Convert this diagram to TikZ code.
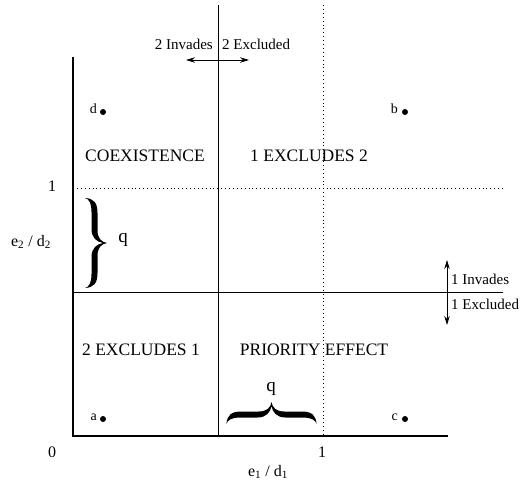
\documentclass[tikz,border=0pt]{standalone}
\usepackage{fontspec}
\setmainfont{Liberation Serif}
\usetikzlibrary{arrows.meta}
\begin{document}
\begin{tikzpicture}[x=1pt,y=-1pt,
  axisline/.style={line width=1.1pt},
  solidline/.style={line width=0.9pt},
  dotline/.style={line width=0.9pt, dash pattern=on 0.9pt off 3pt},
  quad/.style={font=\fontsize{17.5}{20}\selectfont, inner sep=0pt},
  small/.style={font=\fontsize{15}{18}\selectfont, inner sep=1pt},
  axlab/.style={font=\fontsize{16}{18}\selectfont, inner sep=0pt},
  qlab/.style={font=\fontsize{19}{22}\selectfont, inner sep=0pt},
  dotpt/.style={circle, fill, inner sep=0pt, minimum size=6pt},
  ptlabel/.style={font=\fontsize{14}{16}\selectfont, inner sep=0pt, anchor=east},
  dbl/.style={{Stealth[length=9pt,width=5.5pt]}-{Stealth[length=9pt,width=5.5pt]}, line width=0.8pt},
  bracepic/.pic={
    \fill (0,-45) .. controls (9,-44.5) and (12.5,-40) .. (12.5,-30)
      -- (12.5,-13) .. controls (12.5,-5) and (16,-1) .. (22,0)
      .. controls (16,1) and (12.5,5) .. (12.5,13)
      -- (12.5,30) .. controls (12.5,40) and (9,44.5) .. (0,45)
      .. controls (4,44) and (6.5,40) .. (6.5,31)
      -- (6.5,14) .. controls (6.5,5) and (12,1) .. (18,0)
      .. controls (12,-1) and (6.5,-5) .. (6.5,-14)
      -- (6.5,-31) .. controls (6.5,-40) and (4,-44) .. (0,-45) -- cycle;
  }]
\useasboundingbox (0,0) rectangle (520,485);
% axes
\coordinate (O) at (73,436);
\coordinate (Ytop) at (73,57);
\coordinate (Xend) at (448,436);
\draw[axisline] (Ytop) -- (O) -- (Xend);
% solid vertical
\coordinate (V1t) at (218,5);
\coordinate (V1b) at (218,436);
\draw[solidline] (V1t) -- (V1b);
% dotted vertical
\coordinate (V2t) at (323,5);
\coordinate (V2b) at (323,436);
\draw[dotline] (V2t) -- (V2b);
% dotted horizontal
\coordinate (H1l) at (73,188);
\coordinate (H1r) at (503,188);
\draw[dotline] (H1l) -- (H1r);
% solid horizontal
\coordinate (H2l) at (73,292);
\coordinate (H2r) at (503,292);
\draw[solidline] (H2l) -- (H2r);
% arrows
\coordinate (AHl) at (186,60);
\coordinate (AHr) at (249,60);
\draw[dbl] (AHl) -- (AHr);
\coordinate (AVt) at (447,260);
\coordinate (AVb) at (447,325);
\draw[dbl] (AVt) -- (AVb);
\node[small, anchor=east] (inv2) at (214,44) {2 Invades};
\node[small, anchor=west] (exc2) at (221,44) {2 Excluded};
\node[small, anchor=west] (inv1) at (450,279) {1 Invades};
\node[small, anchor=west] (exc1) at (450,304) {1 Excluded};
% points
\node[dotpt] (d) at (103,112) {};
\node[dotpt] (b) at (405,112) {};
\node[dotpt] (a) at (103,419) {};
\node[dotpt] (c) at (405,419) {};
\node[ptlabel] (dl) at (97,109) {d};
\node[ptlabel] (bl) at (398,109) {b};
\node[ptlabel] (al) at (97,417) {a};
\node[ptlabel] (cl) at (398,417) {c};
% quadrant labels
\node[quad] (coex) at (145,156) {COEXISTENCE};
\node[quad] (ex12) at (309,156) {1 EXCLUDES 2};
\node[quad] (ex21) at (141,350) {2 EXCLUDES 1};
\node[quad] (prio) at (314,350) {PRIORITY EFFECT};
% braces
\pic at (85,243) {bracepic};
\node[qlab] (q1) at (123,240) {q};
\pic[rotate=90] at (271.5,424) {bracepic};
\node[qlab] (q2) at (271,389) {q};
% axis labels
\node[axlab] (one_y) at (52,186) {1};
\node[axlab] (zero) at (52,452) {0};
\node[axlab] (one_x) at (322,452) {1};
\node[axlab] (xlab) at (268,472) {e\textsubscript{1} / d\textsubscript{1}};
\node[axlab] (ylab) at (31,242) {e\textsubscript{2} / d\textsubscript{2}};
\end{tikzpicture}
\end{document}
